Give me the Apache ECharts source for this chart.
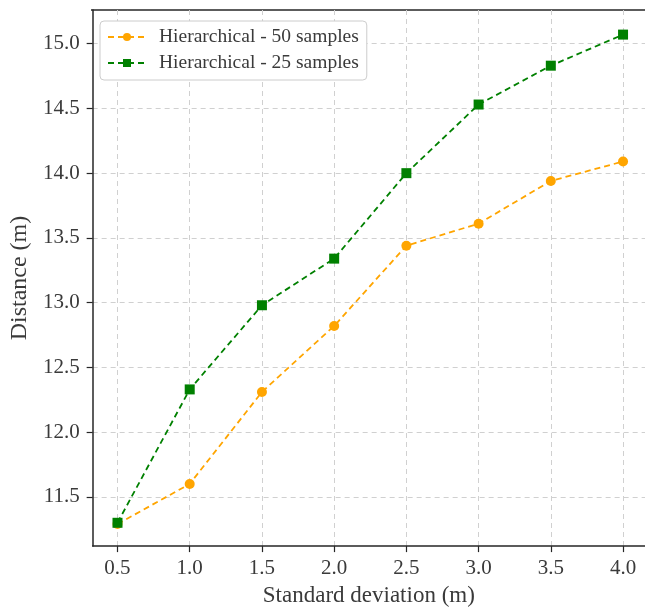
<!DOCTYPE html>
<html><head><meta charset="utf-8">
<script src="https://cdn.jsdelivr.net/npm/echarts@6/dist/echarts.min.js"></script>
<style>html,body{margin:0;padding:0;background:#fff;overflow:hidden}#c{width:645px;height:612px}</style>
</head><body><div id="c"></div>
<script>
const stdDev = [0.5, 1.0, 1.5, 2.0, 2.5, 3.0, 3.5, 4.0];
const hier50 = [11.29, 11.60, 12.31, 12.82, 13.44, 13.61, 13.94, 14.09];
const hier25 = [11.30, 12.33, 12.98, 13.34, 14.00, 14.53, 14.83, 15.07];
const xTicks = [0.5, 1.0, 1.5, 2.0, 2.5, 3.0, 3.5, 4.0];
const yTicks = [11.5, 12.0, 12.5, 13.0, 13.5, 14.0, 14.5, 15.0];
const fontFam = 'Liberation Serif';
const txt = '#3a3a3a';
const chart = echarts.init(document.getElementById('c'), null, {renderer:'canvas', width:645, height:612});
const axisCommon = {
  axisLine:{show:true, onZero:false, lineStyle:{color:'#262626', width:1.5}},
  axisTick:{show:true, inside:false, length:6, lineStyle:{color:'#262626', width:1.2}},
  splitLine:{show:true, lineStyle:{color:'#d0d0d0', type:[5,4], width:1}},
  nameTextStyle:{fontFamily:fontFam, fontSize:23, color:txt},
  nameLocation:'middle'
};
chart.setOption({
  animation:false,
  grid:{left:91, right:0, top:10, bottom:59, show:false},
  graphic:[{type:'line', shape:{x1:91, y1:10, x2:645, y2:10}, style:{stroke:'#262626', lineWidth:1.5}}],
  legend:{
    left:100, top:21, orient:'vertical', itemGap:6, itemWidth:38, itemHeight:10,
    padding:[6,8,7,7], backgroundColor:'#fff', borderColor:'#cccccc', borderWidth:1, borderRadius:4,
    textStyle:{fontFamily:fontFam, fontSize:19.5, color:txt, padding:[0,0,0,8]},
    data:['Hierarchical - 50 samples','Hierarchical - 25 samples']
  },
  xAxis:Object.assign({}, axisCommon, {
    type:'value', min:0.328, max:4.152, name:'Standard deviation (m)', nameGap:36,
    axisTick:Object.assign({}, axisCommon.axisTick, {customValues:xTicks}),
    axisLabel:{customValues:xTicks, fontFamily:fontFam, fontSize:21, color:txt, margin:12,
      formatter:v=>v.toFixed(1)}
  }),
  yAxis:Object.assign({}, axisCommon, {
    type:'value', min:11.12, max:15.26, name:'Distance (m)', nameGap:58,
    nameTextStyle:{fontFamily:fontFam, fontSize:24, color:txt},
    axisTick:Object.assign({}, axisCommon.axisTick, {customValues:yTicks}),
    axisLabel:{customValues:yTicks, fontFamily:fontFam, fontSize:21, color:txt, margin:13,
      formatter:v=>v.toFixed(1)}
  }),
  series:[
    {name:'Hierarchical - 50 samples', type:'line', data:stdDev.map((x,i)=>[x,hier50[i]]),
     symbol:'circle', symbolSize:10, color:'#FFA500',
     lineStyle:{color:'#FFA500', width:1.8, type:[6,4]}, itemStyle:{color:'#FFA500'}},
    {name:'Hierarchical - 25 samples', type:'line', data:stdDev.map((x,i)=>[x,hier25[i]]),
     symbol:'rect', symbolSize:10, color:'#008000',
     lineStyle:{color:'#008000', width:1.8, type:[6,4]}, itemStyle:{color:'#008000'}}
  ]
});
</script></body></html>
